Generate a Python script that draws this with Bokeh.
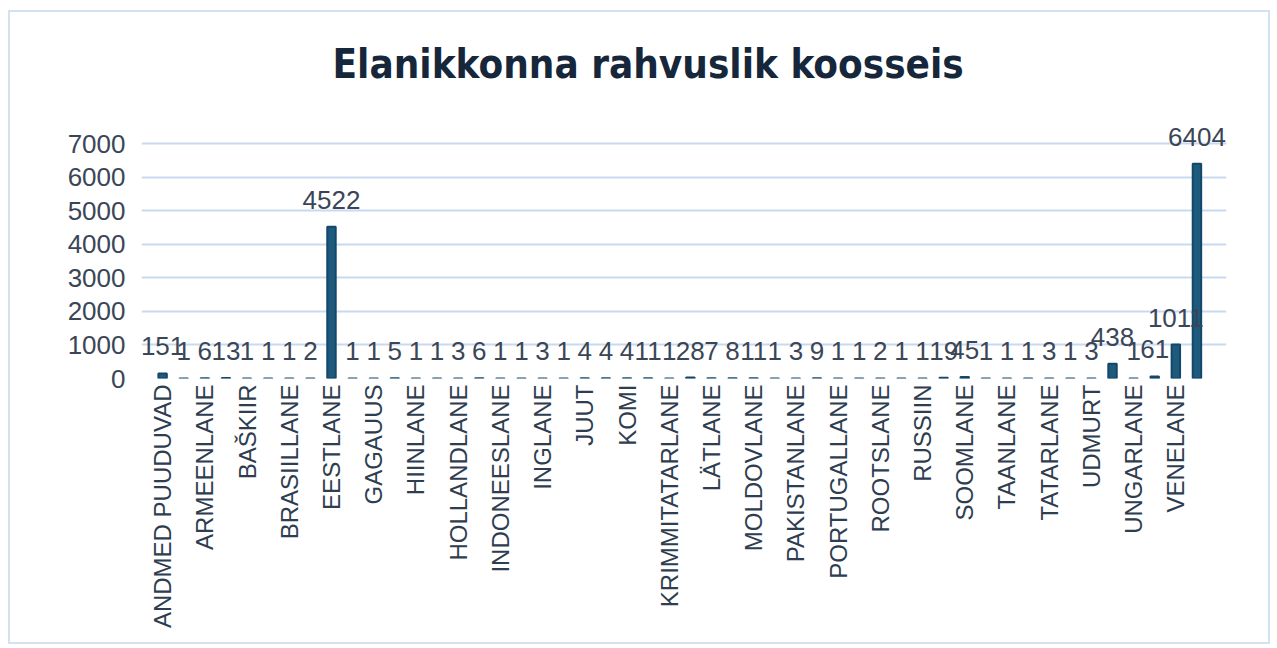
from math import pi
from bokeh.plotting import figure
from bokeh.models import ColumnDataSource, Range1d, FixedTicker, SingleIntervalTicker, LabelSet
from bokeh.core.properties import value
from bokeh.embed import file_html
from bokeh.resources import INLINE

categories = [
    "ANDMED PUUDUVAD", "ARAABLANE", "ARMEENLANE", "ASERBAIDŽAANLANE", "BAŠKIIR",
    "BELGLANE", "BRASIILLANE", "BULGAARLANE", "EESTLANE", "FILIPIINLANE",
    "GAGAUUS", "GRUUSLANE", "HIINLANE", "HISPAANLANE", "HOLLANDLANE",
    "INDIALANE", "INDONEESLANE", "INGERISOOMLANE", "INGLANE", "ITAALLANE",
    "JUUT", "KASAHH", "KOMI", "KREEKLANE", "KRIMMITATARLANE",
    "LEEDULANE", "LÄTLANE", "MARI", "MOLDOVLANE", "NORRALANE",
    "PAKISTANLANE", "POOLAKAS", "PORTUGALLANE", "PRANTSLANE", "ROOTSLANE",
    "RUMEENLANE", "RUSSIIN", "SAKSLANE", "SOOMLANE", "ŠVEITSLANE",
    "TAANLANE", "TADŽIKK", "TATARLANE", "TÜRKLANE", "UDMURT",
    "UKRAINLANE", "UNGARLANE", "VALGEVENELANE", "VENELANE", "(tühi)",
]
counts = [
    151, 1, 6, 13, 1, 1, 1, 2, 4522, 1,
    1, 5, 1, 1, 3, 6, 1, 1, 3, 1,
    4, 4, 4, 11, 1, 28, 7, 8, 11, 1,
    3, 9, 1, 1, 2, 1, 1, 19, 45, 1,
    1, 1, 3, 1, 3, 438, 1, 61, 1011, 6404,
]
y_ticks_interval = 1000
title_text = "Elanikkonna rahvuslik koosseis"

positions = list(range(len(categories)))
source = ColumnDataSource(dict(x=positions, cat=categories, val=counts,
                               lab=[str(v) for v in counts]))

p = figure(
    x_range=Range1d(-1.0, len(categories) + 0.4),
    y_range=Range1d(0, 7900),
    width=1262, height=634,
    output_backend="svg", toolbar_location=None,
    min_border_left=131, min_border_right=46,
    min_border_top=101, min_border_bottom=268,
)
p.styles = {"margin-left": "8px", "margin-top": "10px",
            "border": "2px solid #d3e1f2"}
p.outline_line_color = None
p.background_fill_color = "white"
p.border_fill_color = "white"

p.title.text = title_text
p.title.text_font = "DejaVu Sans Condensed, Roboto"
p.title.text_font_style = "bold"
p.title.text_font_size = "40px"
p.title.text_color = "#16263b"
p.title.align = "left"
p.title.vertical_align = "top"
p.title.offset = 191
p.title.standoff = 50

p.vbar(x="x", top="val", width=0.4, source=source,
       fill_color="#1d5a7c", line_color="#14476a", line_width=2)

labels = LabelSet(x="x", y="val", text="lab", source=source,
                  text_align="center", text_baseline="bottom", y_offset=18,
                  text_font=value("Liberation Sans"), text_font_size=value("26px"),
                  text_color=value("#3a4657"))
p.add_layout(labels)

p.xgrid.visible = False
p.ygrid.grid_line_color = "#c9daf0"
p.ygrid.grid_line_width = 2

yax = p.yaxis[0]
yax.ticker = SingleIntervalTicker(interval=y_ticks_interval)
yax.axis_line_color = None
yax.major_tick_line_color = None
yax.major_tick_out = 0
yax.major_tick_in = 0
yax.minor_tick_line_color = None
yax.major_label_standoff = 12
yax.major_label_text_font = "Liberation Sans"
yax.major_label_text_font_size = "26px"
yax.major_label_text_color = "#3a4657"

xax = p.xaxis[0]
xax.ticker = FixedTicker(ticks=positions[::2])
xax.major_label_overrides = {i: categories[i] for i in positions[::2]}
xax.axis_line_color = None
xax.major_tick_line_color = None
xax.major_tick_out = 0
xax.major_tick_in = 0
xax.minor_tick_line_color = None
xax.major_label_orientation = pi / 2
xax.major_label_standoff = 6
xax.major_label_text_font = "Liberation Sans"
xax.major_label_text_font_size = "24px"
xax.major_label_text_color = "#2e3d4f"

open("out.html", "w").write(file_html(p, INLINE))
